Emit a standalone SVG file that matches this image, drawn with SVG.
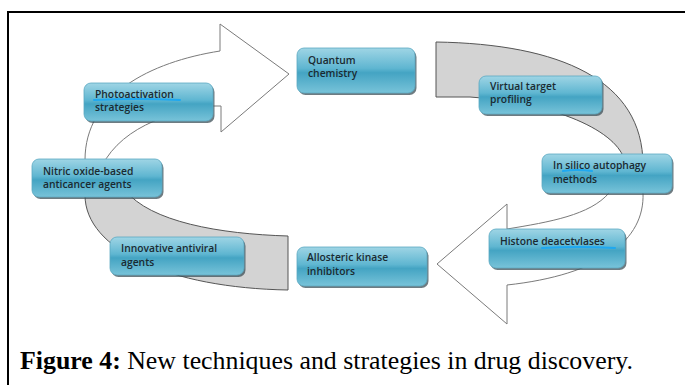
<svg xmlns="http://www.w3.org/2000/svg" width="685" height="385" viewBox="0 0 685 385">
<defs>
<linearGradient id="boxg" x1="0" y1="0" x2="0" y2="1">
<stop offset="0" stop-color="#9fd5e5"/>
<stop offset="0.45" stop-color="#5fb6d1"/>
<stop offset="0.55" stop-color="#44a4c3"/>
<stop offset="1" stop-color="#78c3d9"/>
</linearGradient>
</defs>
<style>
.frame{fill:none;stroke:#000;stroke-width:2}
.warrow{fill:#fff;stroke:#7a7a7a;stroke-width:1}
.gband{fill:#d3d3d3;stroke:#555;stroke-width:1}
.shadow{fill:#3d5058;opacity:0.75}
.box{fill:url(#boxg);stroke:#5ba8c2;stroke-width:0.8}
.lbl{font-family:"Open Sans","Liberation Sans",Arial,sans-serif;font-size:10.3px;font-weight:600;fill:#1a2a31}
.ul{fill:none;stroke:#1fa8f0;stroke-width:2;stroke-linecap:round}
.cap{font-family:"Liberation Serif","Times New Roman",serif;font-size:25px;fill:#000}
</style>
<rect width="685" height="385" fill="#fff"/>
<path class="frame" d="M8,386 L8,12 L686,12"/>
<g id="connectors">
<path class="warrow" d="M85,185 L85,160 C85,95 150,62 220,51 L220,24 L289,74 L221,132 L221,106 L210,106 C170,112 115,128 98,175 L98,185 Z"/>
<path class="gband" d="M436,42 C560,44 643,80 643,165 L625,165 C625,140 575,105 470,97 L436,97 Z"/>
<path class="warrow" d="M609,183 L609,193 C590,215 550,222 507,229 L507,204 L437,264 L507,324 L507,285 C600,275 645,240 643,193 L643,183 Z"/>
<path class="gband" d="M85,185 L85,195 C85,250 170,288 288,290 L288,236 C220,234 150,222 125,190 L125,185 Z"/>
</g>
<g id="quantum">
<rect class="shadow" x="298.5" y="50" width="118" height="45" rx="7"/>
<rect class="box" x="297" y="48" width="118" height="45" rx="7"/>
<text class="lbl" x="308" y="64">Quantum</text>
<text class="lbl" x="308" y="77">chemistry</text>
</g>
<g id="photoactivation">
<rect class="shadow" x="85.5" y="85" width="129" height="38" rx="7"/>
<rect class="box" x="84" y="83" width="129" height="38" rx="7"/>
<path class="ul" d="M94,100 Q137,98 180,100"/>
<text class="lbl" x="95" y="98">Photoactivation</text>
<text class="lbl" x="95" y="111">strategies</text>
</g>
<g id="virtual">
<rect class="shadow" x="480.5" y="78" width="123" height="38" rx="7"/>
<rect class="box" x="479" y="76" width="123" height="38" rx="7"/>
<text class="lbl" x="490" y="90">Virtual target</text>
<text class="lbl" x="490" y="103">profiling</text>
</g>
<g id="nitric">
<rect class="shadow" x="33.5" y="161" width="130" height="38" rx="7"/>
<rect class="box" x="32" y="159" width="130" height="38" rx="7"/>
<text class="lbl" x="43" y="175">Nitric oxide-based</text>
<text class="lbl" x="43" y="188">anticancer agents</text>
</g>
<g id="insilico">
<rect class="shadow" x="543.5" y="156" width="130" height="39" rx="7"/>
<rect class="box" x="542" y="154" width="130" height="39" rx="7"/>
<path class="ul" d="M563,171 Q577,169 592,171"/>
<text class="lbl" x="553" y="169">In silico autophagy</text>
<text class="lbl" x="553" y="183">methods</text>
</g>
<g id="histone">
<rect class="shadow" x="490.5" y="231" width="136" height="39" rx="7"/>
<rect class="box" x="489" y="229" width="136" height="39" rx="7"/>
<path class="ul" d="M542,248 Q578,246 615,248"/>
<text class="lbl" x="500" y="245">Histone deacetvlases</text>
</g>
<g id="innovative">
<rect class="shadow" x="111.5" y="239" width="134" height="38" rx="7"/>
<rect class="box" x="110" y="237" width="134" height="38" rx="7"/>
<text class="lbl" x="121" y="252">Innovative antiviral</text>
<text class="lbl" x="121" y="266">agents</text>
</g>
<g id="allosteric">
<rect class="shadow" x="298.5" y="249" width="130" height="39" rx="7"/>
<rect class="box" x="297" y="247" width="130" height="39" rx="7"/>
<text class="lbl" x="307" y="261">Allosteric kinase</text>
<text class="lbl" x="307" y="275">inhibitors</text>
</g>
<text class="cap" x="20" y="369" textLength="613" lengthAdjust="spacingAndGlyphs"><tspan font-weight="bold">Figure 4:</tspan> New techniques and strategies in drug discovery.</text>
</svg>
